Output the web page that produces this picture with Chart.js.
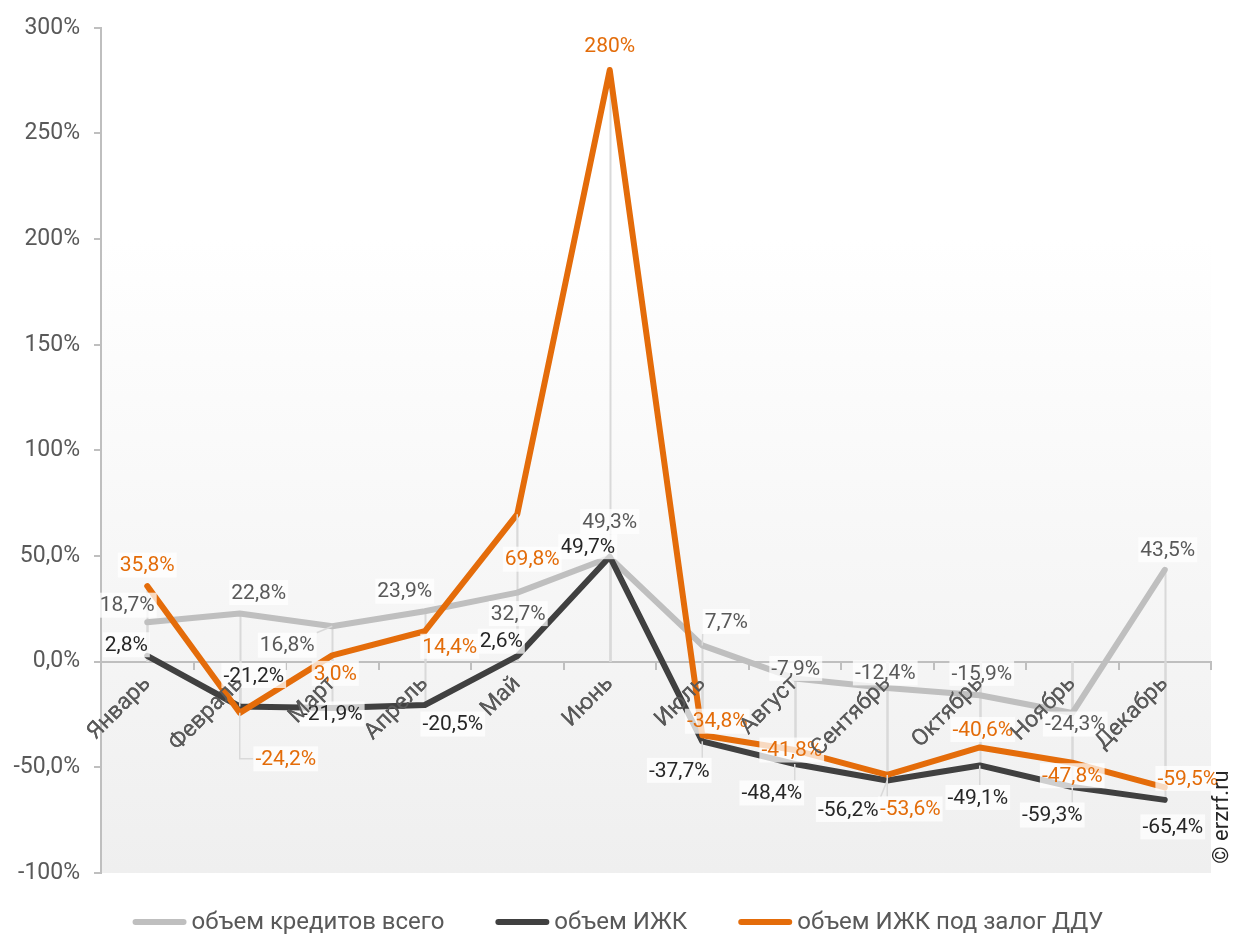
<!DOCTYPE html>
<html>
<head>
<meta charset="utf-8">
<script src="https://cdn.jsdelivr.net/npm/chart.js@4.4.0/dist/chart.umd.min.js"></script>
<style>
  body { margin: 0; background: #ffffff; }
</style>
</head>
<body>
<canvas id="chart" width="1236" height="936"></canvas>
<script>
// chart data
const months = ["Январь", "Февраль", "Март", "Апрель", "Май", "Июнь", "Июль", "Август", "Сентябрь", "Октябрь", "Ноябрь", "Декабрь"];
const creditsTotal = [18.7, 22.8, 16.8, 23.9, 32.7, 49.3, 7.7, -7.9, -12.4, -15.9, -24.3, 43.5];
const izhk = [2.8, -21.2, -21.9, -20.5, 2.6, 49.7, -37.7, -48.4, -56.2, -49.1, -59.3, -65.4];
const izhkDdu = [35.8, -24.2, 3.0, 14.4, 69.8, 280, -34.8, -41.8, -53.6, -40.6, -47.8, -59.5];
const yTickLabels = {"300": "300%", "250": "250%", "200": "200%", "150": "150%", "100": "100%", "50": "50,0%", "0": "0,0%", "-50": "-50,0%", "-100": "-100%"};

// where each value label sits relative to its point (dx, dy)
// leader: 0 = none, 1 = straight line to the box, 2 = down then across (elbow)
const labelPlacement = [
  { color: "#595959", off: [[-20,-17],[19,-21],[-45,19],[-20,-20],[1,21],[0,-36],[24,-24],[1,-10],[-2,-15],[2,-22],[3,11],[3,-20]],
    leader: [0,0,1,0,0,0,1,0,0,0,0,0] },
  { color: "#262626", off: [[-21,-11],[14,-31],[0,6],[28,19],[-16,-15],[-22,-10],[-23,29],[-23,29],[-39,29],[-2,32],[-20,28],[8,27]],
    leader: [0,1,0,0,0,0,1,1,1,1,1,0] },
  { color: "#e36c09", off: [[0,-21],[46,46],[3,18],[25,15],[15,45],[0,-24],[15,-14],[-3,0],[23,34],[3,-18],[0,13],[23,-9]],
    leader: [0,2,0,0,1,0,0,0,1,0,0,0] }
];

const FONT = "Roboto, 'Noto Sans', sans-serif";

function fmt(v) {
  if (Math.abs(v) >= 100 && Number.isInteger(v)) return v + "%";
  return v.toFixed(1).replace(".", ",") + "%";
}

// plot area gradient (white at top to light grey at bottom)
const bgPlugin = {
  id: "bg",
  beforeDraw(chart) {
    const a = chart.chartArea, ctx = chart.ctx;
    const g = ctx.createLinearGradient(0, a.top, 0, a.bottom);
    g.addColorStop(0, "#ffffff");
    g.addColorStop(0.25, "#ffffff");
    g.addColorStop(1, "#efefef");
    ctx.save();
    ctx.fillStyle = g;
    ctx.fillRect(a.left, a.top, a.right - a.left, a.bottom - a.top);
    ctx.restore();
  }
};

// drop lines from every point to the zero line
const dropLines = {
  id: "drop",
  beforeDatasetsDraw(chart) {
    const ctx = chart.ctx;
    const y0 = chart.scales.y.getPixelForValue(0);
    ctx.save();
    ctx.strokeStyle = "#d9d9d9";
    ctx.lineWidth = 2;
    chart.data.datasets.forEach((ds, i) => {
      chart.getDatasetMeta(i).data.forEach(pt => {
        ctx.beginPath();
        ctx.moveTo(Math.round(pt.x) + 0.5, pt.y);
        ctx.lineTo(Math.round(pt.x) + 0.5, y0);
        ctx.stroke();
      });
    });
    ctx.restore();
  }
};

// value labels with white boxes, then month labels again on top
const valueLabels = {
  id: "vlabels",
  afterDatasetsDraw(chart) {
    const ctx = chart.ctx;
    ctx.save();
    ctx.font = "21px " + FONT;
    ctx.textAlign = "center";
    ctx.textBaseline = "middle";
    chart.data.datasets.forEach((ds, i) => {
      const place = labelPlacement[i];
      chart.getDatasetMeta(i).data.forEach((pt, j) => {
        const txt = fmt(ds.data[j]);
        const w = ctx.measureText(txt).width + 4;
        const h = 25;
        const cx = pt.x + place.off[j][0];
        const cy = pt.y + place.off[j][1];
        if (place.leader[j]) {
          ctx.strokeStyle = "#d9d9d9";
          ctx.lineWidth = 1.5;
          ctx.beginPath();
          ctx.moveTo(pt.x, pt.y);
          if (place.leader[j] === 2) {
            ctx.lineTo(pt.x, cy);
            ctx.lineTo(cx - w / 2, cy);
          } else {
            // straight to the nearest side of the box
            const nx = Math.max(cx - w / 2, Math.min(pt.x, cx + w / 2));
            const ny = Math.max(cy - h / 2, Math.min(pt.y, cy + h / 2));
            ctx.lineTo(nx, ny);
          }
          ctx.stroke();
        }
        ctx.fillStyle = "rgba(255,255,255,0.75)";
        ctx.fillRect(cx - w / 2, cy - h / 2, w, h);
        ctx.fillStyle = place.color;
        ctx.fillText(txt, cx, cy + 1);
      });
    });
    ctx.restore();
    chart.scales.x.drawLabels(chart.chartArea);
  },
  afterDraw(chart) {
    const ctx = chart.ctx;
    // copyright
    ctx.save();
    ctx.translate(1222, 817);
    ctx.rotate(-Math.PI / 2);
    ctx.font = "22px " + FONT;
    ctx.fillStyle = "#262626";
    ctx.textAlign = "center";
    ctx.textBaseline = "middle";
    ctx.fillText("© erzrf.ru", 0, 0);
    ctx.restore();

    // legend, drawn by hand so the spacing matches
    ctx.save();
    ctx.font = "24px " + FONT;
    ctx.textBaseline = "middle";
    const lineW = 54, gap = 5, itemGap = 51, y = 922;
    const items = chart.data.datasets.map(ds => ({ text: ds.label, color: ds.borderColor, w: ctx.measureText(ds.label).width }));
    let total = 0;
    items.forEach((it, k) => { total += lineW + gap + it.w + (k ? itemGap : 0); });
    let x = chart.width / 2 - total / 2;
    items.forEach(it => {
      ctx.strokeStyle = it.color;
      ctx.lineWidth = 6;
      ctx.lineCap = "round";
      ctx.beginPath();
      ctx.moveTo(x + 3, y);
      ctx.lineTo(x + lineW - 3, y);
      ctx.stroke();
      ctx.fillStyle = "#595959";
      ctx.fillText(it.text, x + lineW + gap, y + 1);
      x += lineW + gap + it.w + itemGap;
    });
    ctx.restore();
  }
};

const chart = new Chart(document.getElementById("chart"), {
  type: "line",
  data: {
    labels: months,
    datasets: [
      { label: "объем кредитов всего", data: creditsTotal, borderColor: "#bfbfbf", backgroundColor: "#bfbfbf", order: 3 },
      { label: "объем ИЖК", data: izhk, borderColor: "#404040", backgroundColor: "#404040", order: 2 },
      { label: "объем ИЖК под залог ДДУ", data: izhkDdu, borderColor: "#e46c0a", backgroundColor: "#e46c0a", order: 1 }
    ]
  },
  options: {
    responsive: false,
    animation: false,
    devicePixelRatio: 1,
    layout: { padding: { top: 24, right: 25, left: 0, bottom: 63 } },
    elements: {
      line: { borderWidth: 6, tension: 0, borderCapStyle: "round", borderJoinStyle: "round" },
      point: { radius: 0, hoverRadius: 0 }
    },
    scales: {
      x: {
        position: { y: 0 },
        offset: true,
        border: { color: "#bfbfbf", width: 2 },
        grid: { offset: true, drawOnChartArea: false, drawTicks: true, tickLength: 7, color: "#bfbfbf", lineWidth: 2 },
        ticks: { minRotation: 45, maxRotation: 45, autoSkip: false, padding: 2, color: "#595959", font: { family: FONT, size: 23 } }
      },
      y: {
        min: -100,
        max: 300,
        border: { color: "#bfbfbf", width: 2 },
        grid: { drawOnChartArea: false, drawTicks: true, tickLength: 7, color: "#bfbfbf", lineWidth: 2 },
        ticks: {
          stepSize: 50,
          padding: 14,
          color: "#595959",
          font: { family: FONT, size: 23 },
          callback: v => yTickLabels[String(v)]
        },
        afterFit(s) { s.width = 101; }
      }
    },
    plugins: {
      tooltip: { enabled: false },
      legend: { display: false }
    }
  },
  plugins: [bgPlugin, dropLines, valueLabels]
});
</script>
</body>
</html>
